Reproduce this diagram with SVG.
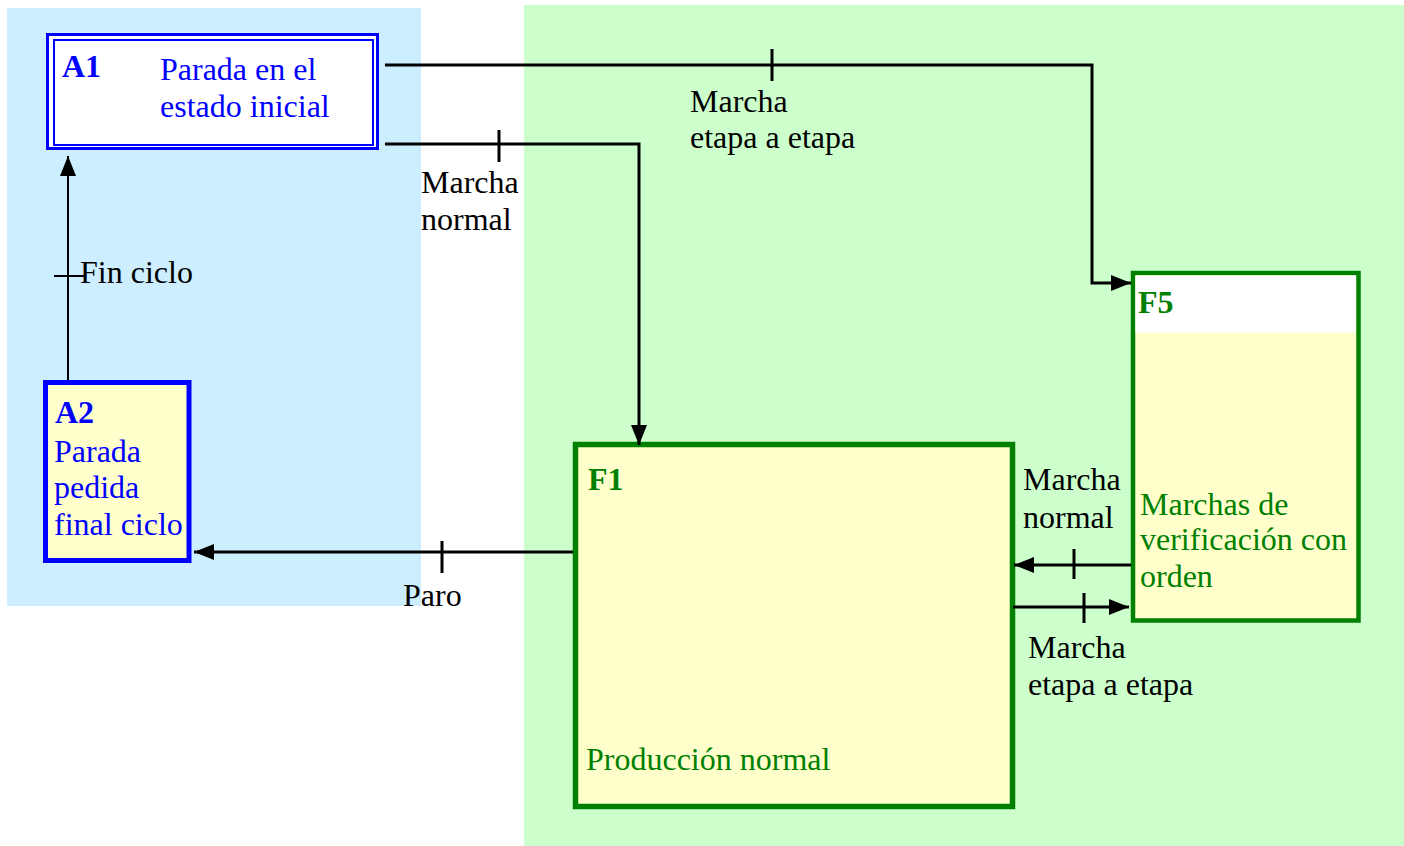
<svg xmlns="http://www.w3.org/2000/svg" width="1404" height="846" viewBox="0 0 1404 846">
<defs>
<style>
.lbl,.bt,.gt{font-family:"Liberation Serif",Tinos,"Times New Roman","DejaVu Serif","Noto Serif",serif;font-size:32px}
.lbl{fill:#000}
.bt{fill:#0000FF}
.gt{fill:#008000}
.b{font-weight:bold}
.con{fill:none;stroke:#000;stroke-width:3}
</style>
<marker id="arr" viewBox="0 0 20 16" refX="20" refY="8" markerWidth="20" markerHeight="16" markerUnits="userSpaceOnUse" orient="auto">
<path d="M0,0 L20,8 L0,16 z" fill="#000"/>
</marker>
</defs>
<rect width="1404" height="846" fill="#fff"/>
<rect x="7" y="8" width="414" height="598" fill="#CCEEFF"/>
<rect x="524" y="5" width="880" height="841" fill="#CCFFCC"/>

<g id="A1">
<rect x="47.5" y="34.5" width="330" height="114" fill="#fff" stroke="#0000FF" stroke-width="3"/>
<rect x="54" y="40" width="319" height="105" fill="none" stroke="#0000FF" stroke-width="2"/>
<text class="bt b" x="62" y="77">A1</text>
<text class="bt" x="160" y="80">Parada en el</text>
<text class="bt" x="160" y="117">estado inicial</text>
</g>

<g id="A2">
<rect x="45.5" y="382.5" width="143.5" height="178" fill="#FFFFCC" stroke="#0000FF" stroke-width="5"/>
<text class="bt b" x="55" y="423">A2</text>
<text class="bt" x="54" y="462">Parada</text>
<text class="bt" x="54" y="498">pedida</text>
<text class="bt" x="54" y="535">final ciclo</text>
</g>

<g id="F1">
<rect x="575.5" y="444.5" width="437" height="362" fill="#FFFFCC" stroke="#008000" stroke-width="5.5"/>
<text class="gt b" x="588" y="490">F1</text>
<text class="gt" x="586" y="770">Producción normal</text>
</g>

<g id="F5">
<rect x="1133" y="273" width="225.5" height="347.5" fill="#FFFFCC" stroke="#008000" stroke-width="4.5"/>
<rect x="1135.5" y="275.5" width="220.5" height="57" fill="#fff"/>
<text class="gt b" x="1138" y="313">F5</text>
<text class="gt" x="1140" y="515">Marchas de</text>
<text class="gt" x="1140" y="550">verificación con</text>
<text class="gt" x="1140" y="587">orden</text>
</g>

<g id="connectors">
<path class="con" d="M385,65 H1092 V283 H1131" marker-end="url(#arr)"/>
<path class="con" d="M772,49 V81"/>
<text class="lbl" x="690" y="112">Marcha</text>
<text class="lbl" x="690" y="148">etapa a etapa</text>

<path class="con" d="M385,144 H639 V445" marker-end="url(#arr)"/>
<path class="con" d="M499,130 V162"/>
<text class="lbl" x="421" y="193">Marcha</text>
<text class="lbl" x="421" y="230">normal</text>

<path class="con" d="M573,552 H194" marker-end="url(#arr)"/>
<path class="con" d="M442,541 V573"/>
<text class="lbl" x="403" y="606">Paro</text>

<path class="con" style="stroke-width:2" d="M68,380 V156" marker-end="url(#arr)"/>
<path class="con" style="stroke-width:2" d="M54,276 H85"/>
<text class="lbl" x="80" y="283">Fin ciclo</text>

<path class="con" d="M1131,565 H1014" marker-end="url(#arr)"/>
<path class="con" d="M1074,549 V579"/>
<text class="lbl" x="1023" y="490">Marcha</text>
<text class="lbl" x="1023" y="528">normal</text>

<path class="con" d="M1013,607 H1129" marker-end="url(#arr)"/>
<path class="con" d="M1084,593 V623"/>
<text class="lbl" x="1028" y="658">Marcha</text>
<text class="lbl" x="1028" y="695">etapa a etapa</text>
</g>
</svg>
